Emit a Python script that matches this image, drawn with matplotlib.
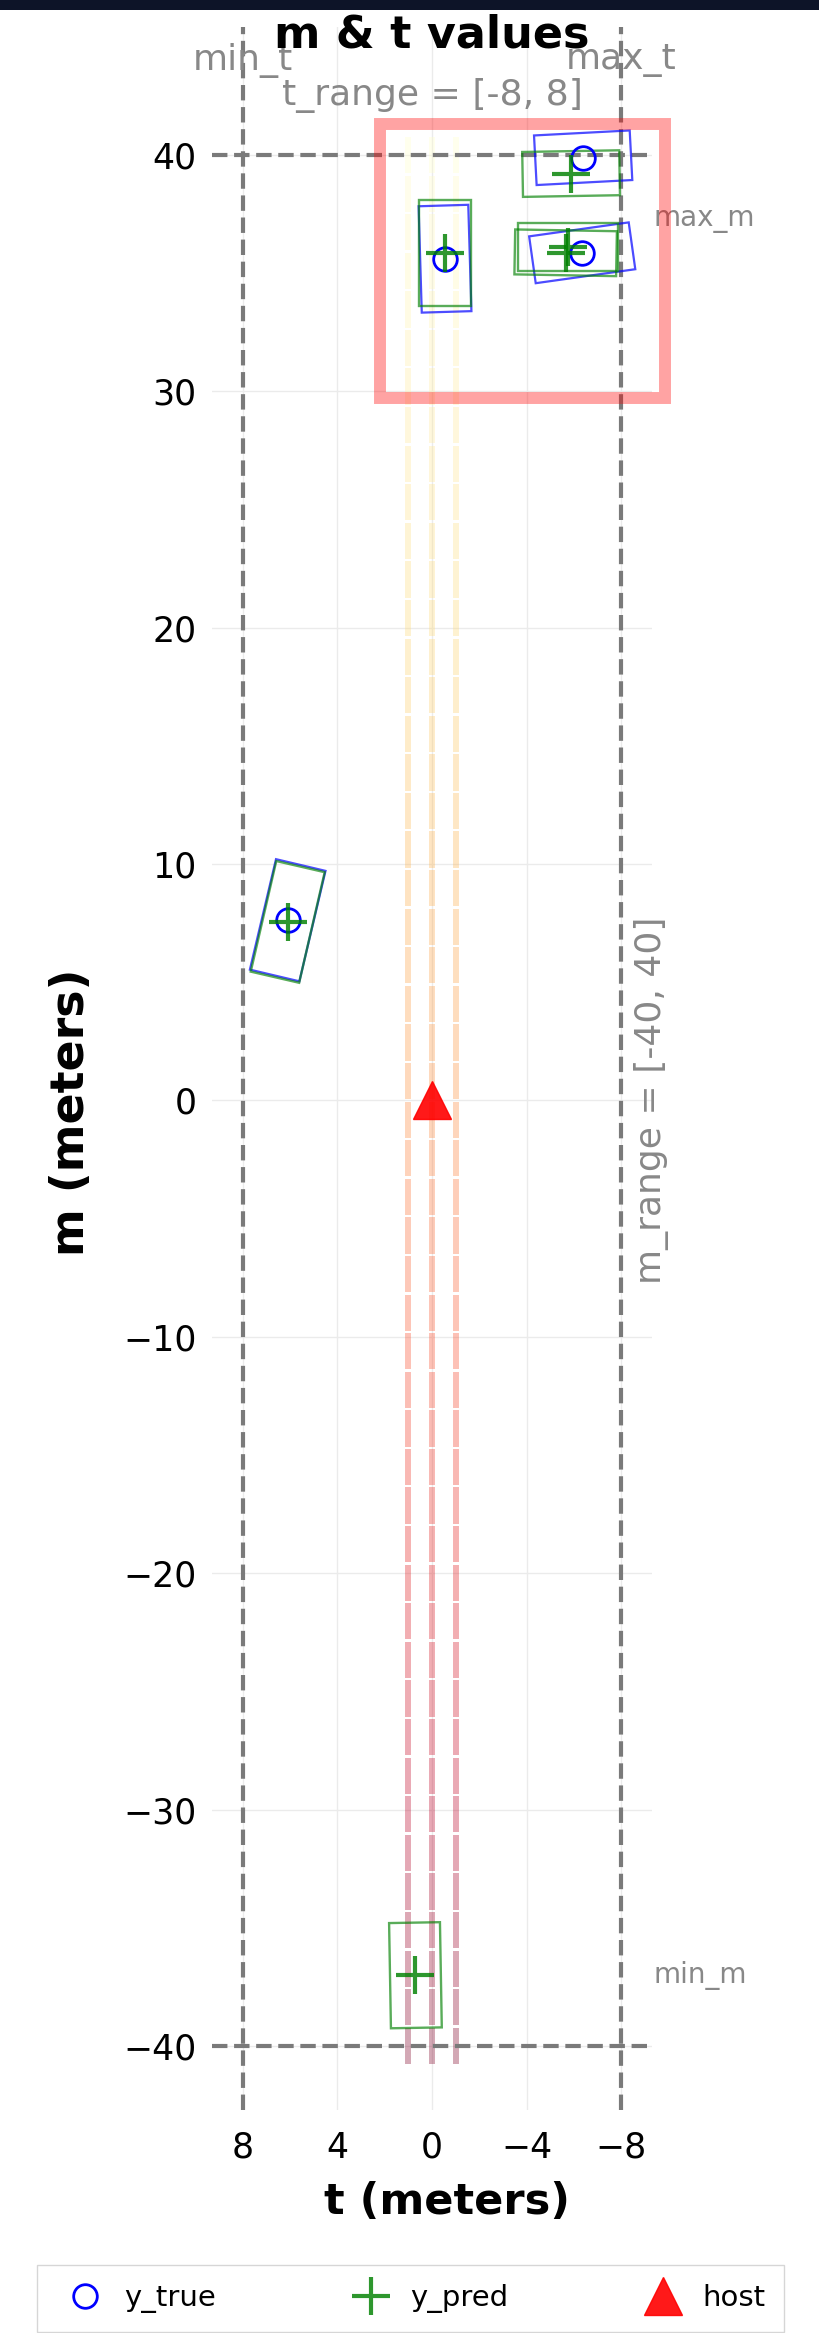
import numpy as np
import matplotlib
matplotlib.use("Agg")
import matplotlib.pyplot as plt
from matplotlib.patches import Polygon, Rectangle

# ground truth objects (t = lateral, m = longitudinal, meters)
true_t = [6.1, -0.55, -6.39, -6.35]
true_m = [7.62, 35.6, 39.87, 35.85]
true_len = [4.8, 4.5, 4.05, 4.25]
true_wid = [2.15, 2.1, 2.1, 2.0]
true_yaw = [-13.3, 1.7, -87.0, -82.0]

# predicted objects
pred_t = [6.1, -0.55, -5.88, -5.75, -5.65, 0.7]
pred_m = [7.55, 35.85, 39.2, 36.1, 35.85, -37.0]
pred_len = [4.8, 4.5, 4.1, 4.2, 4.3, 4.45]
pred_wid = [2.1, 2.2, 1.9, 2.0, 1.9, 2.15]
pred_yaw = [-13.0, 0.0, -89.0, -90.0, -91.0, 1.0]

lanes_t = [1.0, 0.0, -1.0]
lane_m0, lane_m1, lane_nseg = -40.8, 40.8, 50

t_range = [-8, 8]
m_range = [-40, 40]


def box_corners(tc, mc, length, width, yaw):
    a = np.radians(yaw)
    u = np.array([np.cos(a), np.sin(a)])   # (m, t)
    v = np.array([-np.sin(a), np.cos(a)])
    c = np.array([mc, tc])
    pts = []
    for sl, sw in [(1, 1), (1, -1), (-1, -1), (-1, 1)]:
        p = c + sl * length / 2 * u + sw * width / 2 * v
        pts.append([p[1], p[0]])
    return pts


W, H = 820, 2333
fig = plt.figure(figsize=(W / 100, H / 100), dpi=100)
ax = fig.add_axes([212 / W, 1 - 2110 / H, 440 / W, 2083 / H])

for s in ax.spines.values():
    s.set_visible(False)
ax.set_xlim(9.3, -9.3)
ax.set_ylim(-42.7, 45.4)
ax.set_xticks([8, 4, 0, -4, -8])
ax.set_yticks(np.arange(-40, 41, 10))
ax.grid(True, color='#ebebeb', linewidth=1.0)
ax.set_axisbelow(True)
ax.tick_params(length=0, labelsize=25)
ax.tick_params(axis='y', pad=11)
ax.tick_params(axis='x', pad=15)

# lane lines, coloured along m
cmap = plt.get_cmap('YlOrRd')
edges = np.linspace(lane_m0, lane_m1, lane_nseg + 1)
for lt in lanes_t:
    for i in range(lane_nseg):
        y0, y1 = edges[i], edges[i + 1]
        val = (40 - (y0 + y1) / 2) / 80
        ax.plot([lt, lt], [y0 + 0.05, y1 - 0.05], color=cmap(val), alpha=0.34,
                linewidth=4.3, solid_capstyle='butt', zorder=1)

# range lines
for tv in t_range:
    ax.axvline(tv, color='#7a7a7a', linestyle='--', linewidth=3, zorder=2)
for mv in m_range:
    ax.axhline(mv, color='#7a7a7a', linestyle='--', linewidth=3, zorder=2)

# boxes
for i in range(len(true_t)):
    ax.add_patch(Polygon(box_corners(true_t[i], true_m[i], true_len[i], true_wid[i], true_yaw[i]),
                         closed=True, fill=False, edgecolor='blue', alpha=0.7, linewidth=1.6, zorder=3))
for i in range(len(pred_t)):
    ax.add_patch(Polygon(box_corners(pred_t[i], pred_m[i], pred_len[i], pred_wid[i], pred_yaw[i]),
                         closed=True, fill=False, edgecolor='green', alpha=0.65, linewidth=1.7, zorder=3))

ax.plot(true_t, true_m, 'o', linestyle='none', markersize=17, markerfacecolor='none',
        markeredgecolor='blue', markeredgewidth=2.0, label='y_true', zorder=5)
ax.plot(pred_t, pred_m, '+', linestyle='none', markersize=27, color='green', alpha=0.82,
        markeredgewidth=3.0, label='y_pred', zorder=5)
ax.plot([0], [0], '^', linestyle='none', markersize=28, color='red', alpha=0.9,
        label='host', zorder=6)

# annotations
gray = '#888888'
ax.text(8, 44, 'min_t', color=gray, fontsize=26, ha='center', va='center')
ax.text(-8, 44, 'max_t', color=gray, fontsize=26, ha='center', va='center')
ax.text(0, 42.5, 't_range = [-8, 8]', color=gray, fontsize=26, ha='center', va='center')
ax.text(-9.35, 37.3, 'max_m', color=gray, fontsize=20, ha='left', va='center', clip_on=False)
ax.text(-9.35, -37.0, 'min_m', color=gray, fontsize=20, ha='left', va='center', clip_on=False)
ax.text(-9.3, 0, 'm_range = [-40, 40]', color=gray, fontsize=26, rotation=90,
        ha='center', va='center', clip_on=False)

# highlight box
ax.add_patch(Rectangle((2.2, 29.7), -12.05, 11.6, fill=False, edgecolor='red', alpha=0.36,
                       linewidth=8.6, clip_on=False, zorder=4))

ax.set_xlabel('t (meters)', fontsize=31, fontweight='bold')
ax.set_ylabel('m (meters)', fontsize=33, fontweight='bold')
ax.xaxis.set_label_coords(0.534, -0.034)
ax.yaxis.set_label_coords(-0.268, 0.479)
fig.text(432 / W, 1 - 35 / H, 'm & t values', fontsize=32, fontweight='bold', ha='center', va='center')

fig.legend(loc='upper left', bbox_to_anchor=(37 / W, 1 - 2265 / H), borderaxespad=0, ncol=3,
           fontsize=21, columnspacing=4.3, handletextpad=0.35, markerscale=1.0, fancybox=False,
           edgecolor='#cccccc', borderpad=0.65)

# dark strip at the very top
fig.patches.append(Rectangle((0, 1 - 10 / H), 1, 10 / H, transform=fig.transFigure,
                             facecolor='#0d1428', edgecolor='none'))

fig.savefig('out.png', dpi=100)
